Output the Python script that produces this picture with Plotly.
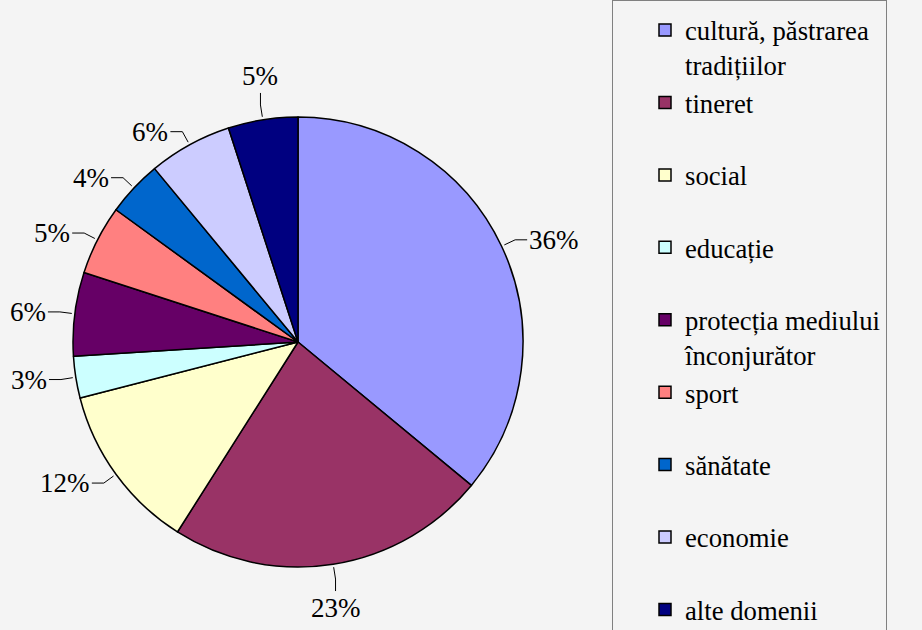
import math
import plotly.graph_objects as go

# date
domenii = ["cultură, păstrarea<br>tradițiilor", "tineret", "social", "educație",
           "protecția mediului<br>înconjurător", "sport", "sănătate", "economie",
           "alte domenii"]
procente = [36, 23, 12, 3, 6, 5, 4, 6, 5]
culori = ["#9999FF", "#993366", "#FFFFCC", "#CCFFFF", "#660066",
          "#FF8080", "#0066CC", "#CCCCFF", "#000080"]

W, H = 922, 630
FONT = "Liberation Serif, Times New Roman, serif"
FS = 27

# pie position (pixels)
cx, cy, r = 298, 342, 225

# every legend entry takes two lines, like the original
leg_labels = [d if "<br>" in d else d + "<br>&nbsp;" for d in domenii]

fig = go.Figure(go.Pie(
    labels=leg_labels,
    values=procente,
    sort=False,
    direction="clockwise",
    rotation=0,
    marker=dict(colors=culori, line=dict(color="black", width=1.5)),
    textinfo="none",
    hoverinfo="label+percent",
    domain=dict(x=[(cx - r) / W, (cx + r) / W], y=[1 - (cy + r) / H, 1 - (cy - r) / H]),
))

# etichete procente cu linii de legatura, calculate din valori
total = sum(procente)
cum = 0
for v in procente:
    mid = (cum + v / 2) / total * 2 * math.pi
    cum += v
    s, c = math.sin(mid), math.cos(mid)
    x0, y0 = cx + (r + 3) * s, cy - (r + 3) * c
    x1, y1 = cx + (r + 15) * s, cy - (r + 15) * c
    txt = f"{round(v / total * 100)}%"
    if abs(s) > 0.35:
        side = 1 if s > 0 else -1
        x2, y2 = x1 + 12 * side, y1
        xa = "left" if side > 0 else "right"
        ya = "middle"
    else:
        side = 1 if c > 0 else -1
        x2, y2 = x1, y1 - 12 * side
        xa = "center"
        ya = "bottom" if c > 0 else "top"
    fig.add_shape(type="path", xref="paper", yref="paper",
                  path=f"M {x0 / W},{1 - y0 / H} L {x1 / W},{1 - y1 / H} L {x2 / W},{1 - y2 / H}",
                  line=dict(color="black", width=1))
    fig.add_annotation(x=x2 / W, y=1 - y2 / H, xref="paper", yref="paper",
                       text=txt, showarrow=False, xanchor=xa, yanchor=ya,
                       font=dict(family=FONT, size=FS, color="black"))

fig.update_layout(
    width=W, height=H,
    margin=dict(l=0, r=0, t=0, b=0),
    paper_bgcolor="#F4F4F4",
    plot_bgcolor="#F4F4F4",
    font=dict(family=FONT, size=FS, color="black"),
    showlegend=True,
    legend=dict(
        x=612 / W, y=1 - 8 / H, xanchor="left", yanchor="top",
        bgcolor="#F4F4F4", bordercolor="#808080", borderwidth=1,
        font=dict(family=FONT, size=26.7, color="black"),
        title=dict(text="&nbsp;", font=dict(size=4)),
        valign="top", indentation=32,
        tracegroupgap=0, maxheight=2000,
    ),
)

fig.write_html("out.html", post_script="document.body.style.margin='0';",
               config={"displayModeBar": False})
